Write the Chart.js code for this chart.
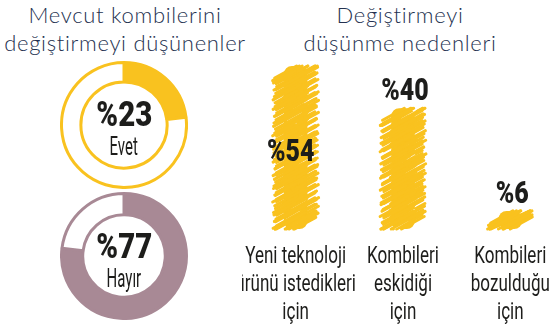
<!DOCTYPE html>
<html lang="tr">
<head>
<meta charset="utf-8">
<script src="https://cdn.jsdelivr.net/npm/chart.js@4.4.0/dist/chart.umd.min.js"></script>
<style>
  html, body { margin: 0; padding: 0; background: #fff; }
  body { width: 552px; height: 330px; position: relative; overflow: hidden; }
  .title { position: absolute; top: 1px; text-align: center; white-space: nowrap;
    font-family: Lato, "Open Sans", sans-serif; font-weight: 300; font-size: 22px;
    line-height: 28px; color: #243150; letter-spacing: 0.7px; }
  .ring { position: absolute; left: 60px; }
  .txt { position: absolute; left: 60px; width: 128px; text-align: center; white-space: nowrap;
    font-family: Roboto, "Noto Sans", sans-serif; color: #1d1d1b; }
  .txt span { display: inline-block; }
  .pct { font-weight: 900; font-size: 35px; line-height: 34px; }
  .pct span { transform: scaleX(0.84); }
  .lbl { font-weight: 400; font-size: 25px; line-height: 24px; }
  .lbl span { transform: scaleX(0.6); }
  #reasons { position: absolute; left: 242px; top: 55px; }
</style>
</head>
<body>
  <div class="title" style="left:0;width:250px">Mevcut kombilerini<br>değiştirmeyi düşünenler</div>
  <div class="title" style="left:300px;width:200px">Değiştirmeyi<br>düşünme nedenleri</div>

  <canvas class="ring" id="ringYes" width="128" height="128" style="top:61px"></canvas>
  <canvas class="ring" id="ringNo" width="128" height="128" style="top:192px"></canvas>
  <div class="txt pct" style="top:98px"><span id="pctYes"></span></div>
  <div class="txt lbl" style="top:135px"><span id="lblYes"></span></div>
  <div class="txt pct" style="top:230px"><span id="pctNo"></span></div>
  <div class="txt lbl" style="top:267px"><span id="lblNo"></span></div>

  <canvas id="reasons" width="322" height="275"></canvas>

<script>
// Veriler
const ringLabels = ["Evet", "Hayır"];
const ringValues = [23, 77];
const reasonLabels = [
  ["Yeni teknoloji", "ürünü istedikleri", "için"],
  ["Kombileri", "eskidiği", "için"],
  ["Kombileri", "bozulduğu", "için"]
];
const reasonValues = [54, 40, 6];

const yellow = "#f9c21f";
const mauve = "#a88995";
const ink = "#1d1d1b";

// Halka grafikleri
function makeRing(id, value, color, cutout) {
  new Chart(document.getElementById(id), {
    type: "doughnut",
    data: {
      datasets: [{
        data: [value, 100 - value],
        backgroundColor: [color, "#ffffff"],
        borderColor: color,
        borderWidth: 3
      }]
    },
    options: {
      responsive: false,
      animation: false,
      cutout: cutout,
      plugins: { legend: { display: false }, tooltip: { enabled: false } }
    }
  });
}
makeRing("ringYes", ringValues[0], yellow, "69%");
makeRing("ringNo", ringValues[1], mauve, "66%");

document.getElementById("pctYes").textContent = "%" + ringValues[0];
document.getElementById("lblYes").textContent = ringLabels[0];
document.getElementById("pctNo").textContent = "%" + ringValues[1];
document.getElementById("lblNo").textContent = ringLabels[1];

// Dar yazı: yatayda sıkıştırılmış metin
function narrowText(ctx, text, x, y, sx) {
  ctx.save();
  ctx.translate(x, y);
  ctx.scale(sx, 1);
  ctx.fillText(text, 0, 0);
  ctx.restore();
}

// Karalama görünümü + etiketler
const scribble = {
  id: "scribble",
  afterDatasetsDraw(chart) {
    const ctx = chart.ctx;
    const values = chart.data.datasets[0].data;
    const area = chart.chartArea;
    chart.getDatasetMeta(0).data.forEach((bar, i) => {
      const { x, y, base } = bar.getProps(["x", "y", "base"], true);
      const w = 46;
      const left = x - w / 2, right = x + w / 2;
      const h = base - y;
      ctx.save();
      ctx.lineCap = "round";
      let k = 0;
      for (let yy = y; yy <= base; yy += 2.2, k++) {
        const len = w * (0.58 + 0.12 * Math.sin(k * 2.1 + i));
        const rise = Math.min(len * 0.55, h * 0.8);
        const a = 4 * Math.abs(Math.sin(k * 1.3 + i * 3));
        const b = 4 * Math.abs(Math.cos(k * 1.9 + i * 5));
        const segs = [[left + a, left + a + len], [right - b - len, right - b]];
        segs.forEach(([x0, x1], j) => {
          const mid = yy + (j ? 1.1 : 0);
          let y0 = mid + rise / 2, y1 = mid - rise / 2;
          if (y1 < y) { y0 += y - y1; y1 = y; }
          if (y0 > base) { y1 -= y0 - base; y0 = base; }
          ctx.strokeStyle = yellow;
          ctx.lineWidth = 3;
          ctx.beginPath();
          ctx.moveTo(x0, y0);
          ctx.lineTo(x1, y1);
          ctx.stroke();
        });
        if (k % 5 === 2 && h > 30) {
          const s = 0.2 + 0.4 * Math.abs(Math.sin(k * 0.7 + i));
          const sx0 = left + w * s, sx1 = sx0 + w * 0.3;
          ctx.strokeStyle = "rgba(255,255,255,0.8)";
          ctx.lineWidth = 0.8;
          ctx.beginPath();
          ctx.moveTo(sx0, Math.min(base, yy + 6));
          ctx.lineTo(sx1, Math.max(y, yy - 2));
          ctx.stroke();
        }
      }
      ctx.restore();

      // Değer etiketi
      ctx.save();
      ctx.fillStyle = ink;
      ctx.font = "900 32px Roboto, 'Noto Sans', sans-serif";
      ctx.textAlign = "center";
      ctx.textBaseline = "alphabetic";
      if (values[i] >= 50) {
        narrowText(ctx, "%" + values[i], x - 5, (y + base) / 2 + 13, 0.78);
      } else {
        narrowText(ctx, "%" + values[i], x + 2, y - 8, 0.78);
      }

      // Kategori etiketi
      ctx.font = "24px Roboto, 'Noto Sans', sans-serif";
      reasonLabels[i].forEach((line, n) => {
        narrowText(ctx, line, chart.scales.x.getPixelForTick(i), area.bottom + 34 + n * 28, 0.71);
      });
      ctx.restore();
    });
  }
};

new Chart(document.getElementById("reasons"), {
  type: "bar",
  data: {
    labels: reasonLabels,
    datasets: [{
      data: reasonValues,
      backgroundColor: yellow,
      borderRadius: 8,
      borderSkipped: false,
      categoryPercentage: 1,
      barPercentage: 0.22
    }]
  },
  options: {
    responsive: false,
    animation: false,
    layout: { padding: { top: 11, bottom: 101, left: 0, right: 0 } },
    plugins: { legend: { display: false }, tooltip: { enabled: false } },
    scales: {
      x: { display: false },
      y: { display: false, min: 0, max: Math.max(...reasonValues) }
    }
  },
  plugins: [scribble]
});
</script>
</body>
</html>
